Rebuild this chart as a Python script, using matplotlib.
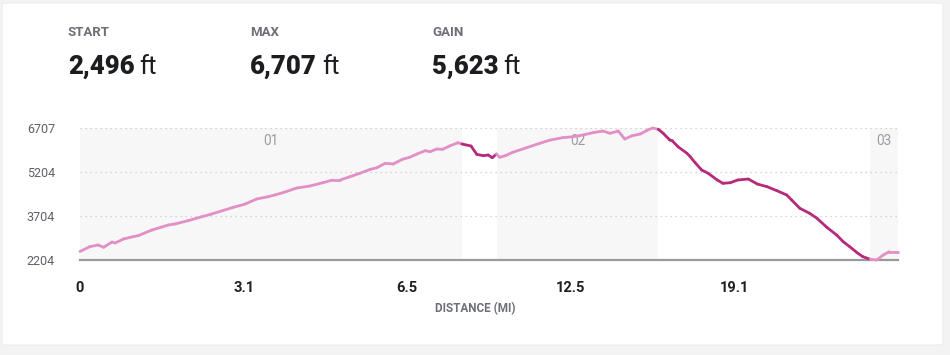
import numpy as np
import matplotlib
matplotlib.use("Agg")
import matplotlib.pyplot as plt
from matplotlib.collections import LineCollection
from matplotlib.patches import FancyBboxPatch

# ---- data ----
stat_labels = ["START", "MAX", "GAIN"]
stat_values = ["2,496", "6,707", "5,623"]
stat_unit = "ft"

# route position (% of plotted track) and elevation (ft)
pos = [0.0, 1.2, 2.2, 2.9, 3.9, 4.3, 5.3, 6.5, 7.1, 8.8, 10.0, 10.8, 11.6, 13.2,
       14.9, 16.1, 17.4, 18.6, 20.2, 21.6, 23.0, 23.8, 24.8, 26.5, 28.1, 29.7,
       30.9, 31.8, 33.0, 34.2, 35.5, 36.3, 37.3, 38.3, 39.4, 40.3, 41.2, 42.2,
       42.8, 43.6, 44.3, 45.2, 46.2, 46.7, 47.8, 48.5, 49.3, 49.9, 50.4, 50.9,
       51.3, 52.0, 52.9, 54.6, 56.2, 57.5, 59.0, 60.3, 61.5, 62.7, 63.9, 64.8,
       65.8, 66.6, 67.5, 68.5, 69.4, 70.0, 70.7, 71.3, 72.1, 72.4, 73.1, 74.2,
       74.6, 75.2, 76.0, 76.8, 77.9, 78.6, 79.5, 80.4, 81.7, 82.8, 84.0, 85.2,
       86.4, 87.0, 88.0, 89.2, 90.1, 91.3, 92.5, 93.3, 94.1, 95.0, 95.7, 96.6,
       97.4, 98.2, 98.9, 100.0]
elev = [2496, 2658, 2716, 2637, 2818, 2784, 2920, 2999, 3033, 3227, 3330, 3398,
        3432, 3545, 3681, 3773, 3886, 3988, 4114, 4285, 4363, 4421, 4500, 4660,
        4728, 4841, 4933, 4933, 5045, 5161, 5298, 5352, 5502, 5479, 5639, 5707,
        5820, 5932, 5898, 5990, 5980, 6093, 6205, 6161, 6093, 5810, 5762, 5786,
        5693, 5820, 5707, 5762, 5878, 6035, 6185, 6297, 6376, 6410, 6468, 6546,
        6604, 6526, 6604, 6331, 6444, 6502, 6638, 6707, 6662, 6526, 6297, 6273,
        6069, 5844, 5728, 5523, 5274, 5161, 4933, 4820, 4841, 4933, 4967, 4796,
        4704, 4568, 4421, 4251, 3967, 3797, 3626, 3319, 3057, 2828, 2658, 2453,
        2317, 2230, 2204, 2375, 2487, 2487]

segment_names = ["01", "02", "03"]
segment_start = [0.0, 51.0, 96.6]
segment_end = [46.7, 70.7, 100.0]

y_ticks = [2204, 3704, 5204, 6707]
x_tick_pos = [0, 20, 40, 60, 80]
x_tick_labels = ["0", "3.1", "6.5", "12.5", "19.1"]
x_title = "DISTANCE (MI)"

# ---- styles ----
LIGHT = "#e28fc6"
DARK = "#b52a7b"
SHADE = "#f7f7f7"
GREY_TXT = "#6d6f78"

plt.rcParams["font.family"] = ["Roboto", "DejaVu Sans"]

W, H = 950, 355
fig = plt.figure(figsize=(W / 100, H / 100), dpi=100, facecolor="#f3f3f3")

card = FancyBboxPatch((2 / W, 1 - 345 / H), 941 / W, 342 / H,
                      boxstyle="round,pad=0,rounding_size=0.004",
                      transform=fig.transFigure, facecolor="white",
                      edgecolor="#ececec", linewidth=0.8, zorder=-5)
fig.patches.append(card)

ax = fig.add_axes([80 / W, 1 - 260 / H, 818 / W, 132 / H])
ax.set_zorder(2)
ax.set_facecolor("none")
ax.set_xlim(0, 100)
ax.set_ylim(y_ticks[0], y_ticks[-1])

for s, e, n in zip(segment_start, segment_end, segment_names):
    ax.axvspan(s, e, color=SHADE, zorder=0, lw=0)
    ax.text((s + e) / 2, 0.905, n, transform=ax.get_xaxis_transform(),
            ha="center", va="center", fontsize=9.8, color="#9a9ca3")

for yt in y_ticks[1:]:
    ax.axhline(yt, color="#c9c9c9", lw=0.9, ls=(0, (1, 3)), zorder=1)
ax.axhline(y_ticks[0], color="#9a9a9a", lw=1.6, zorder=2, clip_on=False)

x = np.array(pos)
y = np.array(elev)
pts = np.column_stack([x, y])
segs = np.stack([pts[:-1], pts[1:]], axis=1)
mids = (x[:-1] + x[1:]) / 2
cols = []
for m in mids:
    shaded = any(s <= m <= e for s, e in zip(segment_start, segment_end))
    cols.append(LIGHT if shaded else DARK)
lc = LineCollection(segs, colors=cols, linewidths=2.0, capstyle="round",
                    joinstyle="round", zorder=3, clip_on=False)
ax.add_collection(lc)

for sp in ax.spines.values():
    sp.set_visible(False)
ax.set_yticks(y_ticks)
ax.set_yticklabels([str(v) for v in y_ticks])
ax.tick_params(axis="y", length=0, pad=18, labelsize=9, labelcolor="#5f6168")
ax.set_xticks(x_tick_pos)
ax.set_xticklabels(x_tick_labels)
ax.tick_params(axis="x", length=0, pad=15, labelsize=10.5, labelcolor="#1e1f22")
for lab in ax.get_xticklabels():
    lab.set_fontweight("bold")

fig.text(0.5, 1 - 309 / H, x_title, ha="center", va="center", fontsize=8.5,
         fontweight="bold", color=GREY_TXT)

# ---- header stats ----
stat_x = [68, 250, 432]
renderer = fig.canvas.get_renderer()
for sx, lab, val in zip(stat_x, stat_labels, stat_values):
    fig.text(sx / W, 1 - 33 / H, lab, ha="left", va="center", fontsize=9.5,
             fontweight="bold", color=GREY_TXT)
    t = fig.text(sx / W, 1 - 67 / H, val, ha="left", va="center", fontsize=18.5,
                 fontweight="black", color="#1c1d20")
    bb = t.get_window_extent(renderer=renderer)
    fig.text((bb.x1 + 5) / W, 1 - 67 / H, stat_unit, ha="left", va="center",
             fontsize=18.5, color="#1c1d20")

fig.savefig("out.png", dpi=100, facecolor=fig.get_facecolor())
